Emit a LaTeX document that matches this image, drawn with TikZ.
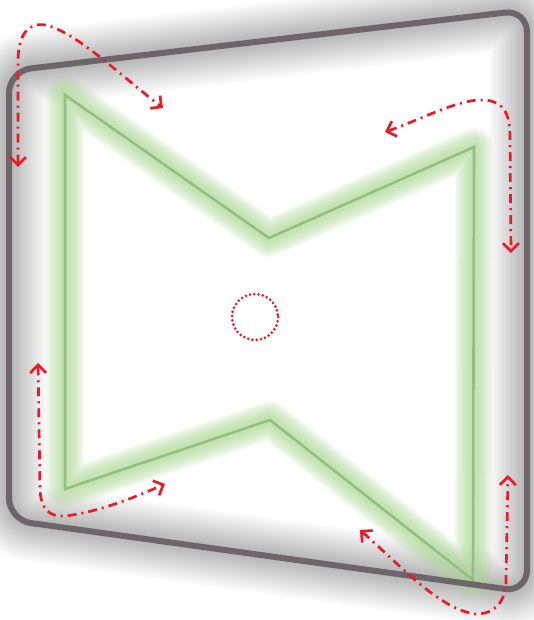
\documentclass[tikz,border=0pt]{standalone}
\usetikzlibrary{arrows.meta}
\definecolor{frame}{RGB}{108,102,106}
\definecolor{glowgreen}{RGB}{175,220,150}
\definecolor{linegreen}{RGB}{150,190,130}
\definecolor{arrowred}{RGB}{232,28,40}
\tikzset{
  redarrow/.style={draw=arrowred, line width=2.7pt,
    dash pattern=on 9pt off 5pt on 2pt off 5pt,
    {Straight Barb[length=8pt,width=16pt,line width=2.7pt]}-{Straight Barb[length=8pt,width=16pt,line width=2.7pt]}},
  framepath/.style={rounded corners=22pt, line join=round},
}
\begin{document}
\begin{tikzpicture}[x=1pt,y=-1pt]
\useasboundingbox (0,0) rectangle (533,620);
\fill[white] (0,0) rectangle (533,620);
% grey soft shadow around the frame
\foreach \w in {76,72,...,8}{
  \draw[framepath, black, opacity=0.014, line width=\w pt]
    (9,71) -- (527,10) -- (527,592) -- (9,520) -- cycle;
}
% green glow of the bow-tie
\foreach \w in {38,35,...,6}{
  \draw[glowgreen, opacity=0.10, line width=\w pt, line join=round]
    (65,95) -- (269,238) -- (474,147) -- (473,580) -- (270,420) -- (65,489) -- cycle;
}
\draw[linegreen, line width=2.6pt, line join=miter]
  (65,95) -- (269,238) -- (474,147) -- (473,580) -- (270,420) -- (65,489) -- cycle;
% frame outline
\draw[framepath, frame, line width=6pt]
  (9,71) -- (527,10) -- (527,592) -- (9,520) -- cycle;
% arrow end points
\coordinate (a1s) at (18,167);   \coordinate (a1e) at (163,108);
\coordinate (a2s) at (385,132);  \coordinate (a2e) at (511,253);
\coordinate (a3s) at (38,363);   \coordinate (a3e) at (165,484);
\coordinate (a4s) at (360,530);  \coordinate (a4e) at (508,475);
% red dash-dot arrows
\draw[redarrow] (a1s) -- (18,62) .. controls (18,35) and (28,22) .. (45,25)
  .. controls (75,31) and (120,75) .. (a1e);
\draw[redarrow] (a2s) .. controls (420,120) and (460,98) .. (485,100)
  .. controls (505,102) and (510,115) .. (510,138) -- (a2e);
\draw[redarrow] (a3s) -- (40,490) .. controls (41,510) and (50,517) .. (65,516)
  .. controls (100,512) and (140,495) .. (a3e);
\draw[redarrow] (a4s) .. controls (400,565) and (440,610) .. (476,614)
  .. controls (496,614) and (506,600) .. (506,580) -- (a4e);
% dotted centre circle
\coordinate (c) at (255,317);
\draw[arrowred, line width=3pt, line cap=round, dash pattern=on 0pt off 4.3pt] (c) circle (23);
\end{tikzpicture}
\end{document}
